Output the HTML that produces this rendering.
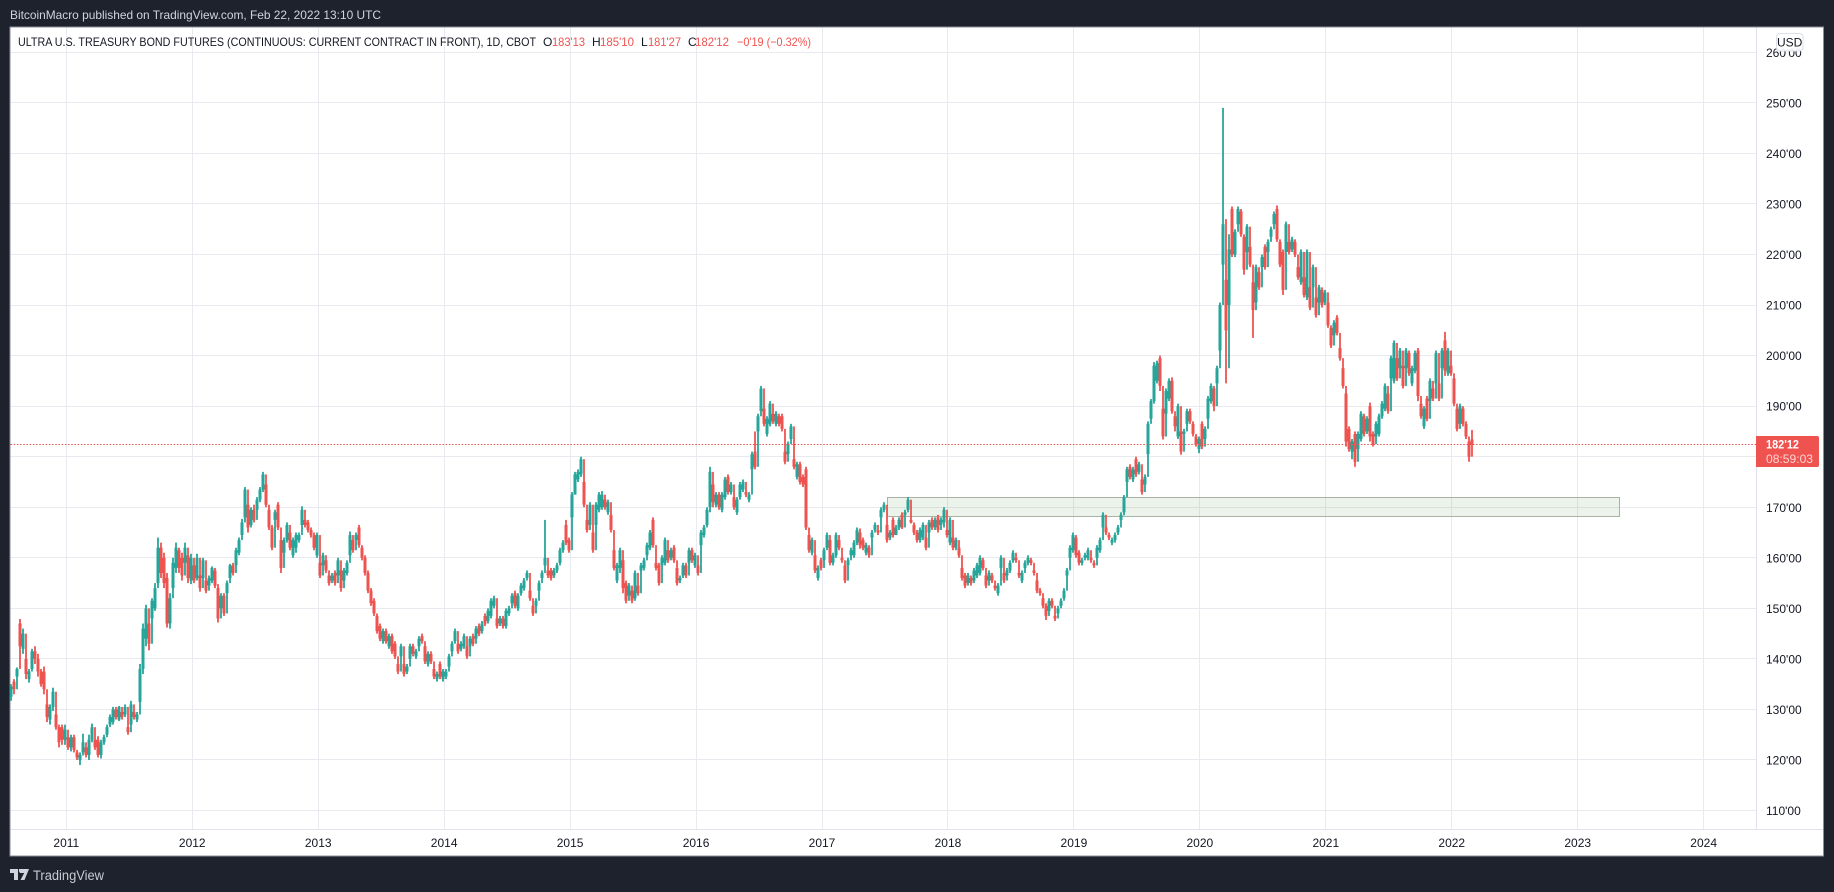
<!DOCTYPE html>
<html lang="en">
<head>
<meta charset="utf-8">
<title>Ultra U.S. Treasury Bond Futures chart</title>
<style>
  html,body{margin:0;padding:0;background:#1e222d;width:1834px;height:892px;overflow:hidden}
  svg{display:block;font-family:"Liberation Sans",sans-serif}
</style>
</head>
<body>
<svg id="chart" xmlns="http://www.w3.org/2000/svg" width="1834" height="892" viewBox="0 0 1834 892">
  <rect x="0" y="0" width="1834" height="892" fill="#1e222d"/>
  <text x="10" y="19" font-size="12" fill="#d1d4dc" textLength="371" lengthAdjust="spacingAndGlyphs">BitcoinMacro published on TradingView.com, Feb 22, 2022 13:10 UTC</text>
  <rect x="10" y="27" width="1813.5" height="829" fill="#ffffff" stroke="#8b8e97" stroke-width="1"/>
  <g id="grid"></g>
  <rect x="1756" y="27.5" width="1" height="802" fill="#e0e3eb"/>
  <rect x="10.5" y="829" width="1812.5" height="1" fill="#e0e3eb"/>
  <rect x="887.5" y="497.5" width="732" height="19" fill="rgba(76,150,70,0.11)" stroke="#aab2a6" stroke-width="1"/>
  <g id="candles"></g>
  <line id="last-line" x1="10.5" x2="1756" stroke="#ef5350" stroke-width="1" stroke-dasharray="1.5 1.7"/>
  <g id="price-labels" font-size="12" fill="#131722"></g>
  <g id="year-labels" font-size="12" fill="#131722"></g>

  <g font-size="12">
    <text x="18" y="46" fill="#131722" textLength="518" lengthAdjust="spacingAndGlyphs">ULTRA U.S. TREASURY BOND FUTURES (CONTINUOUS: CURRENT CONTRACT IN FRONT), 1D, CBOT</text>
    <text x="543" y="46" fill="#131722">O</text>
    <text x="552" y="46" fill="#ef5350" textLength="33" lengthAdjust="spacingAndGlyphs">183'13</text>
    <text x="592" y="46" fill="#131722">H</text>
    <text x="600" y="46" fill="#ef5350" textLength="34" lengthAdjust="spacingAndGlyphs">185'10</text>
    <text x="641" y="46" fill="#131722">L</text>
    <text x="648" y="46" fill="#ef5350" textLength="33" lengthAdjust="spacingAndGlyphs">181'27</text>
    <text x="688" y="46" fill="#131722">C</text>
    <text x="695" y="46" fill="#ef5350" textLength="34" lengthAdjust="spacingAndGlyphs">182'12</text>
    <text x="737" y="46" fill="#ef5350" textLength="74" lengthAdjust="spacingAndGlyphs">−0'19 (−0.32%)</text>
  </g>

  <g>
    <rect x="1776.5" y="33.5" width="26.5" height="17.5" rx="3.5" fill="rgba(255,255,255,0.9)" stroke="#dcdfe7"/>
    <text x="1789.7" y="46.5" font-size="12" text-anchor="middle" fill="#131722">USD</text>
  </g>

  <g id="price-tag">
    <path d="M1756 436H1817a2 2 0 0 1 2 2V465a2 2 0 0 1 -2 2H1756Z" fill="#ef5350"/>
    <text x="1766" y="448.5" font-size="12" font-weight="bold" fill="#ffffff" textLength="33" lengthAdjust="spacingAndGlyphs">182'12</text>
    <text x="1766" y="463" font-size="12" fill="#fcd6d5" textLength="47" lengthAdjust="spacingAndGlyphs">08:59:03</text>
  </g>

  <g>
    <path d="M10 869H18V880H14V873H10ZM19 869H29L24.5 880H20.5L24.2 873H21.5A2 2 0 0 1 19 871Z" fill="#d1d4dc"/>
    <text x="33" y="880" font-size="13.5" fill="#c8cbd3" textLength="71" lengthAdjust="spacingAndGlyphs">TradingView</text>
  </g>
</svg>

<script>
const tickPrices = [110,120,130,140,150,160,170,180,190,200,210,220,230,240,250,260];
const tickYears = [2011,2012,2013,2014,2015,2016,2017,2018,2019,2020,2021,2022,2023,2024];
const lastPrice = 182.375;

const highs = [
135,136,138.3,147.9,146,140.7,138,142,142.5,141,
138,138.5,132,131,134.3,129.5,127,127,127,125,
125,125,122,121.5,125.2,123,125,127.2,124.5,124.7,
124,125,127,129,130.5,130.5,130.7,130,131,127,
131.7,130,129.5,139,147,150.7,147.5,152,155,164,
163,161,157,153,160,163,162,161,163,161,
160.8,159,160.8,157,160,156,156.5,158.3,158,154.8,
153,153,155.5,158.8,159,162,164,167.7,174,171,
170,170.5,172,174,177,175,170,166.5,169.5,171,
164,164,167,165.5,164,165,165,170.2,168,167.5,
166,165,165,159.5,161,160,157,157,157.5,160,
158,158,159.5,165.2,164,165,166.5,162.5,160.5,157.5,
154,152,149,147,146,146,145,145,143.5,139.5,
143,139.5,139,143,143,142,144.5,145,143,141.5,
141.5,138.5,137.5,139.5,138,138,141,143.5,146,143.5,
143.5,145,143,144.5,145,146.5,147,147.5,149,150,
152,152.5,148.5,148.5,148.5,150,150.5,153,153.5,153,
155,156,157.5,154,151,152,155.5,157.5,167.5,158,
158,158,159,162,163.5,167.5,164,173,177,177.5,
180,175.5,168,171,165.5,171,173,173.2,172,171.5,
169,162,159,162,160,155.5,155,154,157.5,155,
159,160,163,165.5,168,159.5,159,160.5,164,162,
162,162.5,158.5,156.5,159,159,162,162,161,159,
165.5,166.5,170,178,175,173,173,173,176,176.5,
175,172.5,172,175,175.5,173.5,173,181,185,188.5,
194,190,188,191,189,189,188.5,188.5,181.5,183,
186.5,180,179,179,176.5,178,165,164,161,158.5,
160,162,165,164,161,165,164,160.5,159,160,
162,163.5,166,165.8,164,163,162.5,165.5,167,166,
170,171,167,165.5,168,166.5,168,169,169.5,172,
168,167,165.5,166,167,164.5,167.5,168,168,168.5,
168,170,166,168,164.5,164,162.5,158.5,157,157,
156.5,158,159,160.5,160,157,157.5,157,155,155,
160.5,157.5,158,159.5,161.5,160.5,157.5,157.5,159.5,160.5,
160,158,156,154,152.5,151,152,152,149,150.5,
152,154,158,162.5,165,164.5,161.5,160,161,162,
160.5,159.5,162.5,164,169,166.5,165,164,165,166.5,
169,172.4,178,178.5,178,180,179,176,176.5,187,
191.4,198.7,199,200,190,193.5,195.5,195.7,188.5,190.5,
185.7,185.5,189.5,189.5,187,184.5,184,187,186,192,
194.5,194,198,210.5,249,227,224,229.5,225,229.5,
229,224,226,222,215,218,217,220,222,223,
225.5,228.5,229.7,223,221,226.5,223,223.5,223,218,
221,216,221,214,218,212,214,213.5,213,211,
206,207,208,202,198,193,186,183.5,185,185,
189,188.5,188,190.7,185,187,188.5,191,194.5,193,
200,203,200,201.5,198.5,201.5,201,198,201,201.5,
191,190,192,195.5,194,201,195,201.5,204.7,201.5,
198.5,196,190,190.5,190,187,183.5,185.3
];

const lows = [
131.7,133,136,141.7,141,136,135.3,137.5,139,136.5,
134.5,133,127.5,127,129.7,126,122.5,123,123,122,
121.7,121.5,120,119,120.9,120.5,120,123.5,122,120.5,
120.3,123,124.5,126.5,127,128,127.7,128,128.5,125,
126.5,128,127.5,131,137,142.5,141.7,147.5,149.5,154,
156,154,146.2,146,153,157,157,155.5,158,155,
154.8,155,155.5,153.3,155,153,154,155,154,147.2,
149.5,148.5,152.7,155.5,156.5,158,160.5,164,167.5,165,
166,167,169,171,173,170,165.5,161.5,167,165.5,
157,160.5,163,161.5,160,161,163,166,166,165,
164,161.5,160,156,158,157,154.5,155,154.5,156,
153.3,155,156.5,160,161,163,162,159.5,156.5,153,
150.5,148.5,145,143.5,143,143,142,141,140,137,
140,136.5,137,139.5,140.5,140,142,143,139,138.5,
139,136,135.5,136,135.5,136,138,141,143,141,
141.5,142,140,142,142.5,143.5,144.5,145,146.5,147,
148,150,146,146.5,146,146,148.5,150.5,150,149.5,
152.5,153.5,155.5,151.5,148.5,150,153,155.5,158,156,
155.5,156,157,158.5,161,162.5,161,167.5,172.5,175,
176,170,165,166,161,166,169,169.5,169.5,168.5,
165,157.5,155,157,153,151,152,151,151.5,152.5,
157,157.5,160,161.5,162,157.5,154.5,158,158.5,159,
159.5,159,154.5,155,156,156,158.5,159,158,156.5,
162,164,166,169,170,170,169.5,169,171.5,172.5,
172.5,169.5,168.5,171.5,173,172,171,177,177.5,184.5,
188.5,186,184,186,186.5,186,186,185,178.5,180,
183,177.5,175.5,174.5,174,165.5,161,160.5,157,155.5,
157.5,159,161.5,158.5,158.5,160,161.5,159,155,158,
160,160,162.5,161.8,161.5,160.5,160,163.5,165,164.5,
167.5,169,163,163.5,164,164.5,165.5,165.7,168,169,
166.8,164.5,163,163,163.5,161.5,164.5,165.5,165.5,165,
166,166,164,162.5,161.5,161.5,160,155.5,154,154.5,
154.5,155,156,156.5,157.5,154,155,155,153.5,152.5,
157.5,155,156,157,159,159,156,155,157.5,158.5,
158.5,156.5,153,152.5,150,147.7,149,150,147.5,148.5,
150,151.5,156,159.5,161,160,158.5,158.5,159.5,159.5,
159,158,159.5,161,165.5,164.5,163.5,162.5,163,164.5,
167,168.4,174.5,175.5,175,176,176.5,172.5,174,180,
187,190.5,194.5,193,183.4,188,191,188.5,185,183.5,
180.4,184,186,186.5,184,182,180.7,181.5,183,187,
190.5,189,194,200,212,194.5,197.5,219.5,219.5,225.5,
223.5,216,220,217.5,203.5,210,213,217,217,220,
223,225.5,222.5,217.5,212,220,220,220.5,219.5,215,
214,211.5,211,209,213,207.5,210,209.5,210,205.5,
201.5,203.5,204,199,193.5,182,181,179.5,178,181,
183,184,184.5,183,182,183.5,184,187.5,189,188.5,
195,194.5,195,197,193.5,197,196,194,196.5,191,
187.5,185.5,187,190.5,191,194,191,197,196,196,
196,190,185,186,186,183.5,179,181.8
];

const opens = [
132.5,135.5,136.5,147,142,140,136,138,141.5,140,
137.5,137.5,131,128,130.5,129,126.5,126.5,124,124.5,
122.5,124.5,121.5,120,121.5,122.5,121,124,124,124,
121,123.5,125,127,127.5,130,128,129.5,129,126.5,
127,129.5,128,131.5,138,144,147,148,150,155,
162,160,156,147,154,158,161.5,160,159,160.5,
155.5,158.5,156,156.5,156,155.5,154.5,155.5,157.5,154,
150,152.5,153,156,158.5,158.5,161,164.5,168,170.5,
166.5,169.5,169.5,171.5,173.5,174.5,169.5,166,167.5,170.5,
163.5,161,163.5,165,160.5,162,163.5,166.5,167.5,167,
165.5,164.5,160.5,159,158.5,159.5,156.5,155.5,157,156.5,
157.5,155.5,157,160.5,163.5,163.5,166,162,160,157,
153.5,151.5,148.5,146.5,143.5,145.5,142.5,144.5,143,139,
140.5,139,137.5,140,142.5,140.5,142.5,144.5,142.5,139,
141,138,136,139,136,136.5,138.5,141.5,143.5,143,
142,142.5,142.5,142.5,144.5,144,146.5,145.5,148.5,147.5,
148.5,150.5,148,147,148,146.5,149,151,153,150,
153,154,156,153.5,150.5,150.5,153.5,156,158.5,157.5,
157.5,156.5,157.5,159,161.5,166.5,163.5,168,172.5,175.5,
176.5,175,167.5,166.5,165,166.5,169.5,170,171.5,169,
168.5,161.5,155.5,158,159.5,155,152.5,153.5,152,154.5,
157.5,158,160.5,162,167.5,159,158.5,158.5,159,161.5,
160,162,158,155.5,156.5,158.5,159,161.5,158.5,158.5,
162.5,164.5,166.5,170,174.5,170.5,172.5,169.5,172,176,
173,172,169,172,173.5,173,171.5,177.5,181,185,
189,189.5,184.5,186.5,188.5,186.5,188,188,181,180.5,
183.5,179.5,176,178.5,176,177.5,164.5,161,160.5,156,
159.5,159.5,162,163.5,159,160.5,163.5,160,158.5,158.5,
160.5,160.5,163,165,163.5,161,162,164,165.5,165.5,
168,169.5,166.5,164,167.5,164.5,166,168.5,168.5,169.5,
167.5,166.5,165,163.5,164,164,165,167.5,166,168,
166.5,167,165.5,163,164,162,162,158,156.5,155,
156,155.5,156.5,157,159.5,156.5,155.5,156.5,154.5,153,
158,157,156.5,157.5,159.5,160,157,155.5,158,159,
159.5,157.5,155.5,153.5,152,150.5,149.5,151.5,148.5,149,
150.5,152,156.5,160,161.5,164,161,159,160,160,
160,159,160,161.5,166,166,164.5,163,163.5,165,
167.5,169,175,178,175.5,179.5,177,175.5,174.5,180.5,
187.5,191,195,199.5,189.5,188.5,191.5,195,188,184,
185,184.5,186.5,189,186.5,184,181.5,186.5,183.5,187.5,
191,193.5,194.5,201,218,215,210,229,220,226,
228.5,223.5,220.5,221.5,214.5,210.5,216.5,217.5,221.5,220.5,
223.5,226,229,222.5,220.5,220.5,222.5,221,222.5,217.5,
214.5,215.5,211.5,213.5,213.5,211.5,210.5,213,210.5,210.5,
205.5,204,207.5,201.5,197.5,192.5,185.5,181,184.5,181.5,
183.5,188,185,190,184.5,184,184.5,188,189.5,192.5,
195.5,195,199.5,197.5,198,197.5,200.5,194.5,197,201,
190.5,186,191.5,191,193.5,194.5,194.5,197.5,203,196.5,
198,195.5,189.5,186.5,189.5,186.5,183,183.4
];

const closes = [
134.5,134,138,142.5,145,137,137.5,141.5,140,137.5,
135,134,128.5,130.5,133.5,126.5,123.5,124,126,122.5,
124.5,122,120.5,121,123.5,121,124,126.5,122.5,121,
123.5,124.5,126.5,128.5,130,128.5,130.5,128.5,130.5,125.5,
131,128.5,129,138,146,150,143,151.5,154,162,
157,155,147,152,159,162,158,156.5,162,156,
160,155.5,160,154,159.5,153.5,156,158,154.5,148,
152.5,149,155,158.5,157,161.5,163.5,167,173.5,166,
169.5,167.5,171.5,173.5,176.5,170.5,166,162,169,166,
158,163.5,166.5,162,163.5,164.5,164.5,169.5,166.5,165.5,
164.5,162,164.5,156.5,160.5,157.5,155,156.5,155,159.5,
154,157.5,159,164.5,161.5,164.5,162.5,160,157,153.5,
151,149,145.5,144,145.5,143.5,144.5,141.5,140.5,137.5,
142.5,137,138.5,142.5,141,141.5,144,143.5,139.5,141,
139.5,136.5,137,136.5,137.5,137.5,140.5,143,145.5,141.5,
143,144.5,140.5,144,143,146,145,147,147,149.5,
151.5,152,146.5,148,146.5,149.5,150,152.5,150.5,152.5,
154.5,155.5,157,152,149,151.5,155,157,160,156.5,
156,157.5,158.5,161.5,163,163,161.5,172.5,176.5,177,
179.5,170.5,165.5,170.5,161.5,170.5,172.5,172.5,170,171,
165.5,158,158.5,161.5,154,151.5,154.5,151.5,157,153,
158.5,159.5,162.5,165,162.5,158,155,160,163.5,159.5,
161.5,159.5,155,156,158.5,156.5,161.5,159.5,160.5,157,
165,166,169.5,177,171,172.5,170,172.5,175.5,173,
174.5,170,171.5,174.5,175,172.5,172.5,180.5,178,188,
193.5,186.5,187.5,190.5,187,188.5,186.5,185.5,179,182.5,
186,178,178.5,175,174.5,166,161.5,163.5,157.5,158,
158,161.5,164.5,159,160.5,164.5,162,159.5,155.5,159.5,
161.5,163,165.5,162.5,162,162.5,160.5,165,166.5,165,
169.5,170.5,163.5,165,164.5,166,167.5,166,169,171.5,
167,165,163.5,165.5,166.5,162,167,166,167.5,165.5,
167.5,169.5,164.5,167.5,162,163.5,160.5,156,154.5,156.5,
155,157.5,158.5,160,158,154.5,157,155.5,154,154.5,
160,155.5,157.5,159,161,159.5,156.5,157,159,160,
159,157,153.5,153,150.5,148.5,151.5,150.5,148,150,
151.5,153.5,157.5,162,164.5,160.5,159,159.5,160.5,161.5,
159.5,158.5,162,163.5,168.5,165,164,163.5,164.5,166,
168.5,172,177.5,176,177.5,176.5,178.5,173,176,186.5,
191,198,198.5,194,184,193,195,189,186,190,
181,185,189,187,184.5,182.5,183.5,182,185.5,191.5,
194,190,197.5,210,226,205,221,220,224.5,229,
224,217,225.5,218,209,217.5,213.5,219.5,217.5,222.5,
225,228,223,218,213,226,220.5,223,220,215.5,
220.5,212,220.5,209.5,217.5,208,213.5,210,212.5,206,
202,206.5,204.5,199.5,194,183,181.5,183,179,184.5,
188.5,184.5,187.5,184,182.5,186.5,188,190.5,194,189,
199.5,202.5,195.5,201,194,201,196.5,197.5,200.5,192,
188,189.5,187.5,195,191.5,200.5,191.5,201,197,201,
196.5,190.5,185.5,190,186.5,184,180,182.4
];

const SVG_NS = 'http://www.w3.org/2000/svg';
const PANE_LEFT = 10.5, PANE_RIGHT = 1756, PANE_TOP = 27.5, PANE_BOTTOM = 829;

function yScale(price) { return 52.3 + (260 - price) * 5.055; }
function xYear(year) { return 66.3 + (year - 2011) * 125.95; }
function xBar(index) { return 11 + index * 3; }
function snap(v) { return Math.round(v - 0.5) + 0.5; }

function make(tag, attrs, parent) {
  const el = document.createElementNS(SVG_NS, tag);
  for (const k in attrs) el.setAttribute(k, attrs[k]);
  parent.appendChild(el);
  return el;
}

const gridG = document.getElementById('grid');
const priceG = document.getElementById('price-labels');
const yearG = document.getElementById('year-labels');
const candleG = document.getElementById('candles');

tickPrices.forEach(function (p) {
  const y = snap(yScale(p));
  const line = make('line', {x1: PANE_LEFT, x2: PANE_RIGHT, y1: y, y2: y, stroke: '#e9eaf0', 'stroke-width': 1}, gridG);
  
  
  const label = make('text', {x: 1766, y: yScale(p) + 4.5}, priceG);
  
  
  label.textContent = p + "'00";
});

tickYears.forEach(function (yr) {
  const x = snap(xYear(yr));
  const line = make('line', {x1: x, x2: x, y1: PANE_TOP, y2: PANE_BOTTOM, stroke: '#e9eaf0', 'stroke-width': 1}, gridG);
  
  
  const label = make('text', {x: xYear(yr), y: 847, 'text-anchor': 'middle'}, yearG);
  
  
  label.textContent = String(yr);
});

highs.forEach(function (h, i) {
  const o = opens[i], c = closes[i], l = lows[i];
  const color = c >= o ? '#26a69a' : '#ef5350';
  const x = xBar(i);
  /* the wick also reaches the previous close so the dense series stays continuous */
  const prev = i > 0 ? closes[i - 1] : o;
  const wick = make('line', {x1: x, x2: x, y1: yScale(Math.max(h, prev)), y2: yScale(Math.min(l, prev)), stroke: color, 'stroke-width': 1.8}, candleG);
  
  
  const top = yScale(Math.max(o, c));
  const bottom = yScale(Math.min(o, c));
  const body = make('rect', {x: x - 1.5, y: top, width: 3, height: Math.max(bottom - top, 1), fill: color}, candleG);
  
  
});

const lastLine = document.getElementById('last-line');
lastLine.setAttribute('y1', snap(yScale(lastPrice)));
lastLine.setAttribute('y2', snap(yScale(lastPrice)));
</script>
</body>
</html>
